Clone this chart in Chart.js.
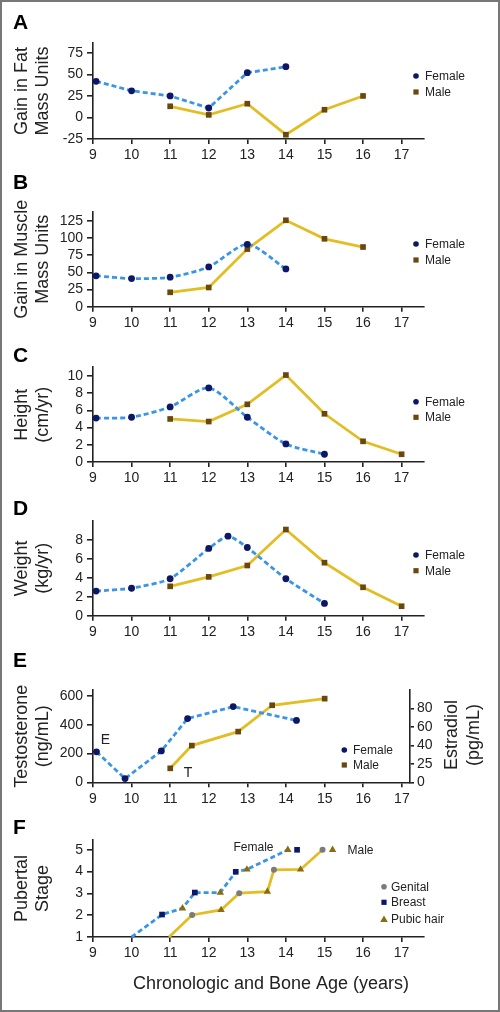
<!DOCTYPE html>
<html>
<head>
<meta charset="utf-8">
<title>Growth and puberty by age</title>
<script src="https://cdn.jsdelivr.net/npm/chart.js@4.4.1/dist/chart.umd.min.js"></script>
<style>
  html, body { margin: 0; padding: 0; background: #fff; }
  #page { position: relative; width: 500px; height: 1012px; overflow: hidden; }
  #page canvas { position: absolute; left: 0; }
  #frame { position: absolute; left: 0; top: 0; width: 500px; height: 1012px; box-sizing: border-box; border: 2px solid #777; pointer-events: none; }
</style>
</head>
<body>
<div id="page">
  <canvas id="panelA"></canvas>
  <canvas id="panelB"></canvas>
  <canvas id="panelC"></canvas>
  <canvas id="panelD"></canvas>
  <canvas id="panelE"></canvas>
  <canvas id="panelF"></canvas>
  <div id="frame"></div>
</div>
<script>
// shared x axis (chronologic and bone age, years)
var ageTicks = [9, 10, 11, 12, 13, 14, 15, 16, 17];
var sexLabels = ['Female', 'Male'];

// A - gain in fat mass units
var fatFemaleAge = [9.08, 10, 11, 12, 13, 14];
var fatFemale = [42, 31, 25, 11, 52, 59];
var fatMaleAge = [11, 12, 13, 14, 15, 16];
var fatMale = [13, 3, 16, -20, 9, 25];
var fatTicks = [-25, 0, 25, 50, 75];

// B - gain in muscle mass units
var muscleFemaleAge = [9.08, 10, 11, 12, 13, 14];
var muscleFemale = [45, 41, 43, 58, 91, 55];
var muscleMaleAge = [11, 12, 13, 14, 15, 16];
var muscleMale = [21, 28, 84, 126, 99, 87];
var muscleTicks = [0, 25, 50, 75, 100, 125];

// C - height velocity (cm/yr)
var heightFemaleAge = [9.08, 10, 11, 12, 13, 14, 15];
var heightFemale = [5.1, 5.2, 6.4, 8.6, 5.2, 2.1, 0.9];
var heightMaleAge = [11, 12, 13, 14, 15, 16, 17];
var heightMale = [5.0, 4.7, 6.7, 10.1, 5.6, 2.4, 0.9];
var heightTicks = [0, 2, 4, 6, 8, 10];

// D - weight velocity (kg/yr)
var weightFemaleAge = [9.08, 10, 11, 12, 12.5, 13, 14, 15];
var weightFemale = [2.6, 2.9, 3.9, 7.1, 8.4, 7.2, 3.9, 1.3];
var weightMaleAge = [11, 12, 13, 14, 15, 16, 17];
var weightMale = [3.1, 4.1, 5.3, 9.1, 5.6, 3.0, 1.0];
var weightTicks = [0, 2, 4, 6, 8];

// E - hormones: estradiol (female, right axis), testosterone (male, left axis)
var estradiolAge = [9.09, 9.83, 10.77, 11.45, 12.63, 14.27];
var estradiol = [33, 4, 34, 69, 82, 67];
var testosteroneAge = [11, 11.56, 12.76, 13.64, 15];
var testosterone = [97, 255, 352, 535, 581];
var testosteroneTicks = [0, 200, 400, 600];
var estradiolTicks = [0, 20, 40, 60, 80];
var estradiolTickLabels = ['0', '25', '40', '60', '80'];

// F - pubertal stage
var stageTicks = [1, 2, 3, 4, 5];
var stageLabels = ['Genital', 'Breast', 'Pubic hair'];
var femaleStageAge = [10, 10.79, 11.32, 11.64, 12.3, 12.7, 12.99, 14.05];
var femaleStage = [1, 2.03, 2.32, 3.04, 3.04, 3.99, 4.1, 5];
var breastAge = [10.79, 11.64, 12.7, 14.29];
var breastStage = [2.03, 3.04, 3.99, 5];
var femalePubicAge = [11.32, 12.3, 12.99, 14.05];
var femalePubicStage = [2.32, 3.04, 4.1, 5];
var maleStageAge = [10.97, 11.57, 12.32, 12.79, 13.52, 13.69, 14.38, 14.95];
var maleStage = [1, 2.01, 2.24, 3.01, 3.08, 4.08, 4.1, 5];
var genitalAge = [11.57, 12.79, 13.69, 14.95];
var genitalStage = [2.01, 3.01, 4.08, 5];
var malePubicAge = [12.32, 13.52, 14.38, 15.21];
var malePubicStage = [2.24, 3.08, 4.1, 5];

var BLUE = '#3a95e5', NAVY = '#0c1766', GOLD = '#e3bd24', BROWN = '#6a470f',
    OLIVE = '#8a6c12', GREY = '#7b7b7b', INK = '#222';
var SANS = "'Liberation Sans', Arial, sans-serif";
var TICK_FONT = { family: SANS, size: 14 };
var TITLE_SIZE = 18;

function points(xs, ys) {
  return xs.map(function (x, i) { return { x: x, y: ys[i] }; });
}

function femaleSet(xs, ys, tension, axis) {
  return {
    data: points(xs, ys), yAxisID: axis || 'y', clip: false,
    borderColor: BLUE, borderWidth: 2.8, borderDash: [5, 3], tension: tension || 0,
    pointStyle: 'circle', pointRadius: 3.4, pointBackgroundColor: NAVY, pointBorderWidth: 0
  };
}

function maleSet(xs, ys, axis) {
  return {
    data: points(xs, ys), yAxisID: axis || 'y', clip: false,
    borderColor: GOLD, borderWidth: 2.8,
    pointStyle: 'rect', pointRadius: 4, pointBackgroundColor: BROWN, pointBorderWidth: 0
  };
}

function markerSet(xs, ys, style, color, radius) {
  return {
    data: points(xs, ys), showLine: false, clip: false,
    pointStyle: style, pointRadius: radius, pointBackgroundColor: color, pointBorderWidth: 0
  };
}

function lineOnly(xs, ys, color, dash) {
  return {
    data: points(xs, ys), clip: false, borderColor: color, borderWidth: 2.8,
    borderDash: dash || [], pointRadius: 0
  };
}

function drawMarker(ctx, style, color, r, x, y) {
  ctx.fillStyle = color;
  ctx.beginPath();
  if (style === 'circle') {
    ctx.arc(x, y, r, 0, Math.PI * 2);
  } else if (style === 'rect') {
    ctx.rect(x - r, y - r, r * 2, r * 2);
  } else {
    ctx.moveTo(x, y - r * 1.1);
    ctx.lineTo(x + r * 1.2, y + r * 0.9);
    ctx.lineTo(x - r * 1.2, y + r * 0.9);
    ctx.closePath();
  }
  ctx.fill();
}

// panel letter, legend, annotations and the extra titles
var decor = {
  id: 'decor',
  afterDraw: function (chart, args, opts) {
    var ctx = chart.ctx;
    ctx.save();
    ctx.fillStyle = '#000';
    ctx.font = 'bold 21px ' + SANS;
    ctx.textAlign = 'left';
    ctx.textBaseline = 'alphabetic';
    ctx.fillText(opts.letter, 13, opts.letterY);

    (opts.legend || []).forEach(function (item) {
      drawMarker(ctx, item.style, item.color, item.size, item.x, item.y);
      ctx.fillStyle = INK;
      ctx.font = '12px ' + SANS;
      ctx.textBaseline = 'middle';
      ctx.fillText(item.label, item.tx, item.y + 0.5);
    });

    (opts.notes || []).forEach(function (n) {
      ctx.save();
      ctx.fillStyle = INK;
      ctx.font = n.font;
      ctx.textAlign = 'center';
      ctx.textBaseline = 'middle';
      ctx.translate(n.x, n.y);
      if (n.rotate) ctx.rotate(-Math.PI / 2);
      ctx.fillText(n.text, 0, 0);
      ctx.restore();
    });
    ctx.restore();
  }
};

function tickSetter(values) {
  return function (scale) {
    scale.ticks = values.map(function (v) { return { value: v }; });
  };
}

function makePanel(id, box, cfg) {
  var canvas = document.getElementById(id);
  canvas.width = 500;
  canvas.height = box.height;
  canvas.style.top = box.top + 'px';

  var axisLine = { color: INK, width: 1.6 };
  var scales = {
    x: {
      type: 'linear', min: 9, max: cfg.xMax,
      afterBuildTicks: tickSetter(ageTicks),
      afterFit: function (s) { s.height = box.height - box.plotBottom; },
      border: axisLine,
      grid: { drawOnChartArea: false, tickLength: 5, color: INK, lineWidth: 1.6 },
      ticks: { padding: 3, color: INK, font: TICK_FONT, maxRotation: 0, autoSkip: false }
    },
    y: {
      type: 'linear', min: cfg.yMin, max: cfg.yMax,
      afterBuildTicks: tickSetter(cfg.yTicks),
      afterFit: function (s) { s.width = 93; },
      border: axisLine,
      grid: { drawOnChartArea: false, tickLength: 6, color: INK, lineWidth: 1.6 },
      ticks: { padding: 4, color: INK, font: TICK_FONT, autoSkip: false },
      title: {
        display: true, text: cfg.yTitle, color: INK,
        font: { family: SANS, size: TITLE_SIZE, lineHeight: 1.18 },
        padding: { top: 11, bottom: 0 }
      }
    }
  };
  if (cfg.y1) scales.y1 = cfg.y1;

  return new Chart(canvas, {
    type: 'line',
    data: { datasets: cfg.datasets },
    options: {
      responsive: false,
      animation: false,
      events: [],
      layout: { padding: { top: box.plotTop, right: cfg.y1 ? 0 : 500 - 424, left: 0, bottom: 0 } },
      plugins: { legend: { display: false }, tooltip: { enabled: false }, decor: cfg.decor },
      scales: scales
    },
    plugins: [decor]
  });
}

function sexLegend(x, tx, y1, y2) {
  return [
    { label: sexLabels[0], style: 'circle', color: NAVY, size: 2.8, x: x, tx: tx, y: y1 },
    { label: sexLabels[1], style: 'rect', color: BROWN, size: 2.6, x: x, tx: tx, y: y2 }
  ];
}

makePanel('panelA', { top: 0, height: 170, plotTop: 43, plotBottom: 139 }, {
  xMax: 17.58, yMin: -25, yMax: 86.5, yTicks: fatTicks,
  yTitle: ['Gain in Fat', 'Mass Units'],
  datasets: [femaleSet(fatFemaleAge, fatFemale), maleSet(fatMaleAge, fatMale)],
  decor: { letter: 'A', letterY: 28.5, legend: sexLegend(416, 425, 76, 92) }
});

makePanel('panelB', { top: 170, height: 165, plotTop: 41.7, plotBottom: 136.7 }, {
  xMax: 17.58, yMin: 0, yMax: 138.5, yTicks: muscleTicks,
  yTitle: ['Gain in Muscle', 'Mass Units'],
  datasets: [femaleSet(muscleFemaleAge, muscleFemale, 0.25), maleSet(muscleMaleAge, muscleMale)],
  decor: { letter: 'B', letterY: 18.5, legend: sexLegend(416, 425, 74, 90) }
});

makePanel('panelC', { top: 335, height: 158, plotTop: 32.3, plotBottom: 127 }, {
  xMax: 17.58, yMin: 0, yMax: 11, yTicks: heightTicks,
  yTitle: ['Height', '(cm/yr)'],
  datasets: [femaleSet(heightFemaleAge, heightFemale, 0.25), maleSet(heightMaleAge, heightMale)],
  decor: { letter: 'C', letterY: 26.5, legend: sexLegend(416, 425, 66.7, 82.3) }
});

makePanel('panelD', { top: 493, height: 152, plotTop: 28, plotBottom: 122.7 }, {
  xMax: 17.58, yMin: 0, yMax: 10, yTicks: weightTicks,
  yTitle: ['Weight', '(kg/yr)'],
  datasets: [femaleSet(weightFemaleAge, weightFemale, 0.2), maleSet(weightMaleAge, weightMale)],
  decor: { letter: 'D', letterY: 22, legend: sexLegend(416, 425, 62, 77.7) }
});

makePanel('panelE', { top: 645, height: 160, plotTop: 45, plotBottom: 137.3 }, {
  xMax: 17.21, yMin: 0, yMax: 641, yTicks: testosteroneTicks,
  yTitle: ['Testosterone', '(ng/mL)'],
  y1: {
    type: 'linear', position: 'right', min: 0, max: 100,
    afterBuildTicks: tickSetter(estradiolTicks),
    afterFit: function (s) { s.width = 90; },
    border: { color: INK, width: 1.6 },
    grid: { drawOnChartArea: false, tickLength: 4, color: INK, lineWidth: 1.6 },
    ticks: {
      padding: 3, color: INK, font: TICK_FONT, autoSkip: false,
      callback: function (v) {
        var i = estradiolTicks.indexOf(v);
        return i < 0 ? '' : estradiolTickLabels[i];
      }
    }
  },
  datasets: [femaleSet(estradiolAge, estradiol, 0, 'y1'), maleSet(testosteroneAge, testosterone)],
  decor: {
    letter: 'E', letterY: 22.3, legend: sexLegend(344.3, 353, 105, 120),
    notes: [
      { text: 'E', x: 105.5, y: 95, font: '14px ' + SANS },
      { text: 'T', x: 188, y: 128, font: '14px ' + SANS },
      { text: 'Estradiol', x: 452.5, y: 90, rotate: true, font: TITLE_SIZE + 'px ' + SANS },
      { text: '(pg/mL)', x: 474.5, y: 90, rotate: true, font: TITLE_SIZE + 'px ' + SANS }
    ]
  }
});

makePanel('panelF', { top: 808, height: 204, plotTop: 32, plotBottom: 129 }, {
  xMax: 17.58, yMin: 1, yMax: 5.45, yTicks: stageTicks,
  yTitle: ['Pubertal', 'Stage'],
  datasets: [
    markerSet(breastAge, breastStage, 'rect', NAVY, 4),
    markerSet(femalePubicAge, femalePubicStage, 'triangle', OLIVE, 4.3),
    markerSet(genitalAge, genitalStage, 'circle', GREY, 3),
    markerSet(malePubicAge, malePubicStage, 'triangle', OLIVE, 4.3),
    lineOnly(femaleStageAge, femaleStage, BLUE, [5, 3]),
    lineOnly(maleStageAge, maleStage, GOLD)
  ],
  decor: {
    letter: 'F', letterY: 26,
    legend: [
      { label: stageLabels[0], style: 'circle', color: GREY, size: 2.8, x: 384, tx: 391, y: 78.7 },
      { label: stageLabels[1], style: 'rect', color: NAVY, size: 2.6, x: 384, tx: 391, y: 94.3 },
      { label: stageLabels[2], style: 'triangle', color: OLIVE, size: 3.2, x: 384, tx: 391, y: 111 }
    ],
    notes: [
      { text: sexLabels[0], x: 253.5, y: 39.5, font: '12px ' + SANS },
      { text: sexLabels[1], x: 360.5, y: 43, font: '12px ' + SANS },
      { text: 'Chronologic and Bone Age (years)', x: 271, y: 176, font: '18px ' + SANS }
    ]
  }
});
</script>
</body>
</html>
